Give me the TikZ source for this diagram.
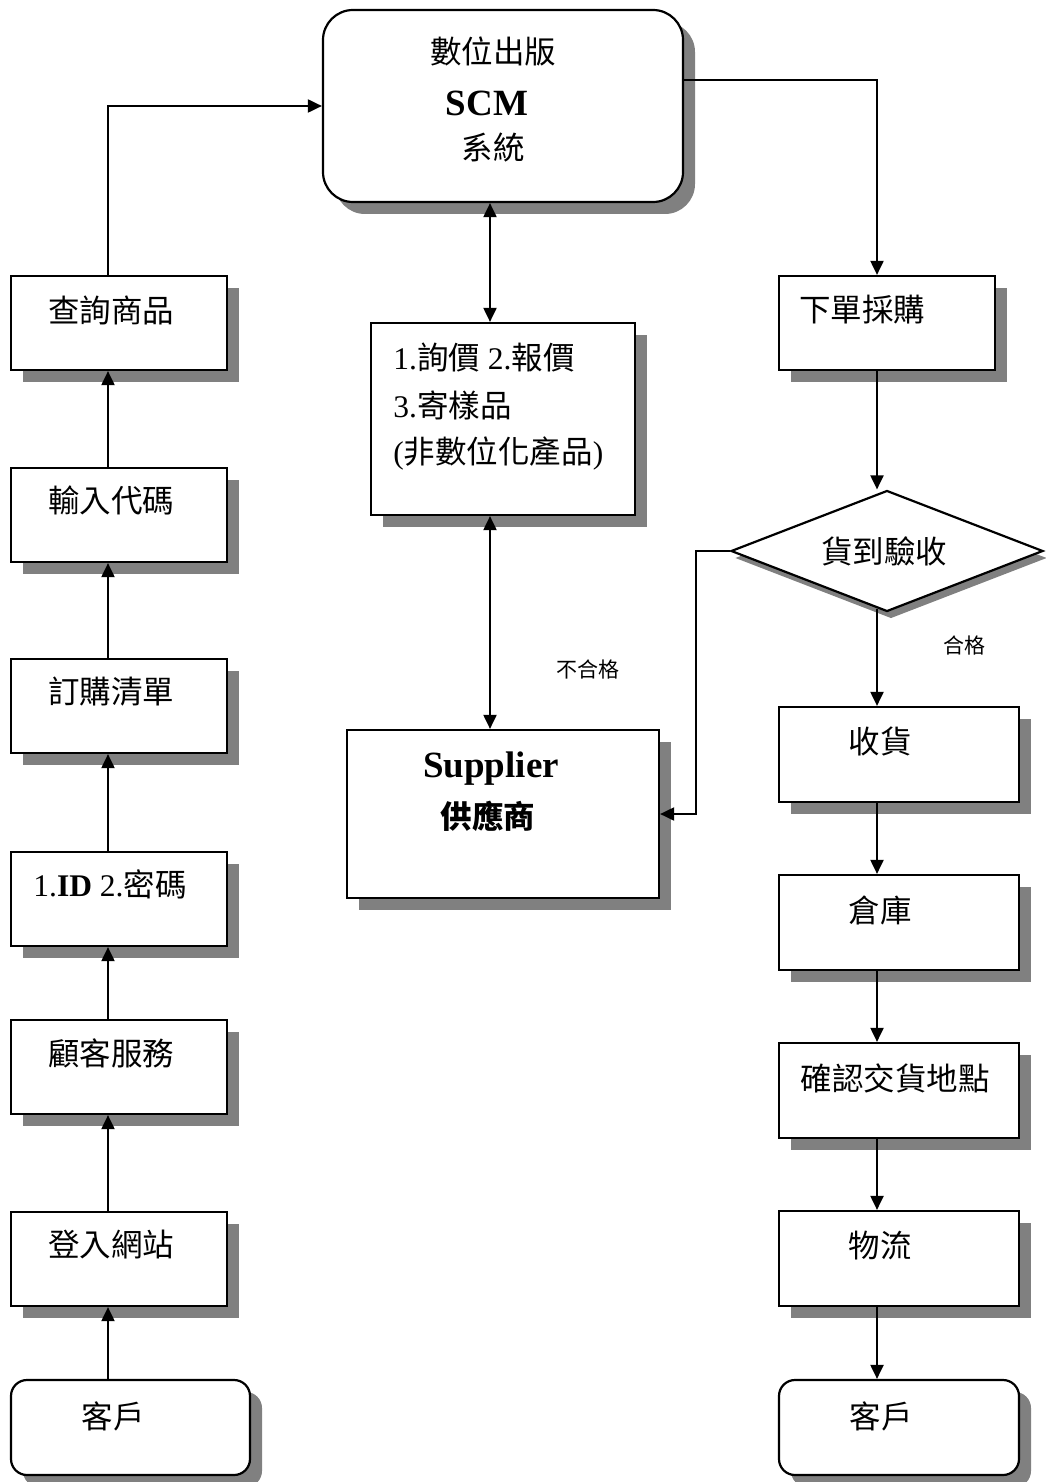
\documentclass[tikz,border=0pt]{standalone}
\usepackage{fontspec}
\setmainfont{Liberation Serif}
\newfontfamily\cjk{Noto Sans CJK TC}
\newcommand\zhtxt[1]{{\cjk #1}}
\usetikzlibrary{arrows.meta,shapes.geometric,shadows}
\definecolor{shadowgray}{RGB}{128,128,128}
\begin{document}
\begin{tikzpicture}[x=0.5pt,y=-0.5pt,
  box/.style={draw=black, line width=1.1pt, fill=white, inner sep=0pt, rectangle,
    drop shadow={shadow xshift=6pt, shadow yshift=-6pt, fill=shadowgray, opacity=1}},
  rbox/.style={box, rounded corners=8pt},
  dbox/.style={draw=black, line width=1.1pt, fill=white, inner sep=0pt, diamond,
    drop shadow={shadow xshift=2pt, shadow yshift=-3.5pt, fill=shadowgray, opacity=1}},
  txt/.style={font=\fontsize{15.75}{19}\selectfont, inner sep=0pt},
  ztxt/.style={font=\cjk\fontsize{15.75}{19}\selectfont, inner sep=0pt},
  zbold/.style={font=\cjk\bfseries\fontsize{15.75}{19}\selectfont, inner sep=0pt},
  small/.style={font=\cjk\fontsize{10.5}{13}\selectfont, inner sep=0pt},
  bold/.style={font=\bfseries\fontsize{18.5}{22}\selectfont, inner sep=0pt},
  arr/.style={line width=1pt, -{Triangle[length=7pt,width=6.5pt]}},
  dbl/.style={line width=1pt, {Triangle[length=7pt,width=6.5pt]}-{Triangle[length=7pt,width=6.5pt]}}
]
\useasboundingbox (0,0) rectangle (1045,1482);

% main system
\node[box, rounded corners=15pt, minimum width=180pt, minimum height=96pt] (scm) at (503,106) {};
\node[ztxt] (scm1) at (493,52) {數位出版};
\node[bold] (scm2) at (487,103) {SCM};
\node[ztxt] (scm3) at (493,148) {系統};

% left column
\node[box, minimum width=108pt, minimum height=47pt] (q) at (119,323) {};
\node[ztxt] (qt) at (111,310) {查詢商品};
\node[box, minimum width=108pt, minimum height=47pt] (inp) at (119,515) {};
\node[ztxt] (inpt) at (111,500) {輸入代碼};
\node[box, minimum width=108pt, minimum height=47pt] (ord) at (119,706) {};
\node[ztxt] (ordt) at (111,692) {訂購清單};
\node[box, minimum width=108pt, minimum height=47pt] (id) at (119,899) {};
\node[txt, anchor=west] (idt) at (33,884) {1.{\bfseries ID} 2.\zhtxt{密碼}};
\node[box, minimum width=108pt, minimum height=47pt] (svc) at (119,1067) {};
\node[ztxt] (svct) at (111,1053) {顧客服務};
\node[box, minimum width=108pt, minimum height=47pt] (login) at (119,1259) {};
\node[ztxt] (logint) at (111,1245) {登入網站};
\node[rbox, minimum width=119.5pt, minimum height=47.5pt] (cust1) at (130.5,1427.5) {};
\node[ztxt] (cust1t) at (113,1416) {客戶};

% middle column
\node[box, minimum width=132pt, minimum height=96pt] (mid) at (503,419) {};
\node[txt, anchor=west] (mid1) at (393,357) {1.\zhtxt{詢價} 2.\zhtxt{報價}};
\node[txt, anchor=west] (mid2) at (393,405) {3.\zhtxt{寄樣品}};
\node[txt, anchor=west] (mid3) at (393,453) {(\zhtxt{非數位化產品})};
\node[box, minimum width=156pt, minimum height=84pt] (sup) at (503,814) {};
\node[bold] (sup1) at (491,769) {Supplier};
\node[zbold] (sup2) at (488,816) {供應商};
\node[small] (ng) at (588,669) {不合格};

% right column
\node[box, minimum width=108pt, minimum height=47pt] (buy) at (887,323) {};
\node[ztxt] (buyt) at (862,310) {下單採購};
\node[dbox, minimum width=156pt, minimum height=60.5pt] (dia) at (887,551) {};
\node[ztxt] (diat) at (884,551) {貨到驗收};
\node[small] (ok) at (964,645) {合格};
\node[box, minimum width=120pt, minimum height=47.5pt] (recv) at (899,754.5) {};
\node[ztxt] (recvt) at (880,741) {收貨};
\node[box, minimum width=120pt, minimum height=47.5pt] (wh) at (899,922.5) {};
\node[ztxt] (wht) at (880,910) {倉庫};
\node[box, minimum width=120pt, minimum height=47.5pt] (conf) at (899,1090.5) {};
\node[ztxt] (conft) at (895,1078) {確認交貨地點};
\node[box, minimum width=120pt, minimum height=47.5pt] (log) at (899,1258.5) {};
\node[ztxt] (logt) at (880,1246) {物流};
\node[rbox, minimum width=120pt, minimum height=47.5pt] (cust2) at (899,1427.5) {};
\node[ztxt] (cust2t) at (881,1416) {客戶};

% guide coordinates
\coordinate (lx) at (108,0);
\coordinate (mx) at (490,0);
\coordinate (rx) at (877,0);
\coordinate (ry) at (0,80);
\coordinate (fb) at (696,0);

% left column arrows
\draw[arr] (cust1.north -| lx) -- (login.south -| lx);
\draw[arr] (login.north -| lx) -- (svc.south -| lx);
\draw[arr] (svc.north -| lx) -- (id.south -| lx);
\draw[arr] (id.north -| lx) -- (ord.south -| lx);
\draw[arr] (ord.north -| lx) -- (inp.south -| lx);
\draw[arr] (inp.north -| lx) -- (q.south -| lx);
\draw[arr] (q.north -| lx) |- (scm.west);

% middle arrows
\draw[dbl] (scm.south -| mx) -- (mid.north -| mx);
\draw[dbl] (mid.south -| mx) -- (sup.north -| mx);

% right column arrows
\draw[arr] (scm.east |- ry) -| (buy.north -| rx);
\draw[arr] (buy.south -| rx) -- (dia.north -| rx);
\draw[arr] ([yshift=2pt]dia.south -| rx) -- (recv.north -| rx);
\draw[arr] (dia.west) -- (dia.west -| fb) |- (sup.east);
\draw[arr] (recv.south -| rx) -- (wh.north -| rx);
\draw[arr] (wh.south -| rx) -- (conf.north -| rx);
\draw[arr] (conf.south -| rx) -- (log.north -| rx);
\draw[arr] (log.south -| rx) -- (cust2.north -| rx);
\end{tikzpicture}
\end{document}
